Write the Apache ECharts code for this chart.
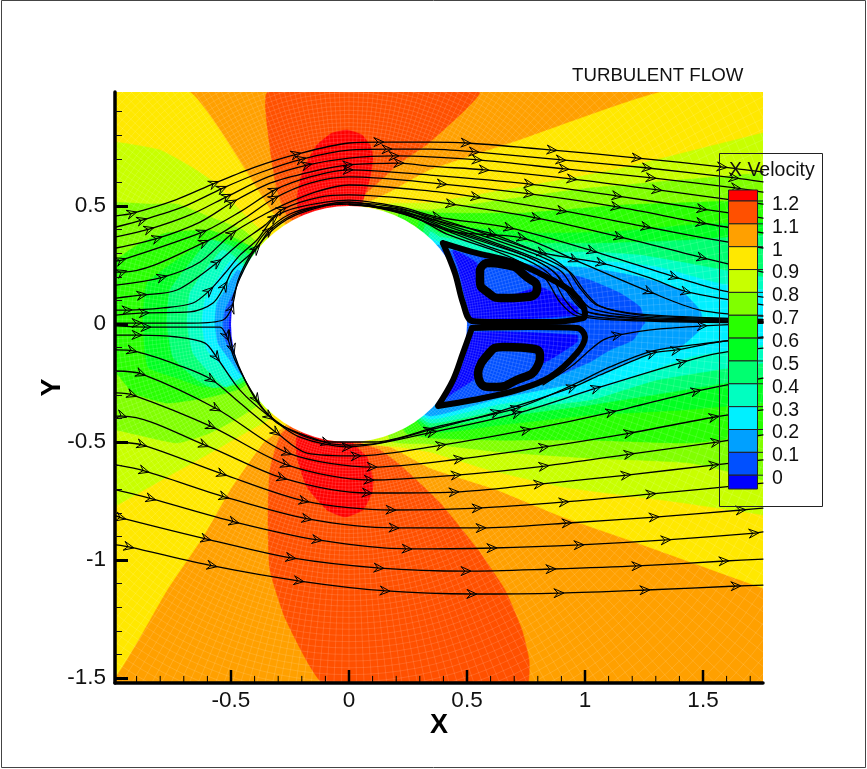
<!DOCTYPE html>
<html><head><meta charset="utf-8">
<style>html,body{margin:0;padding:0;background:#fff}#c{width:867px;height:769px}</style>
<script src="https://cdn.jsdelivr.net/npm/echarts@6/dist/echarts.min.js"></script>
</head><body><div id="c"></div>
<script>
// ---------- axis values
const xMajorTicks = [-0.5, 0, 0.5, 1, 1.5];
const xMinorTicks = [-0.9,-0.8,-0.7,-0.6,-0.4,-0.3,-0.2,-0.1,0.1,0.2,0.3,0.4,0.6,0.7,0.8,0.9,1.1,1.2,1.3,1.4,1.6,1.7];
const yMajorTicks = [-1.5, -1, -0.5, 0, 0.5];
const yMinorTicks = [-1.4,-1.3,-1.2,-1.1,-0.9,-0.8,-0.7,-0.6,-0.4,-0.3,-0.2,-0.1,0.1,0.2,0.3,0.4,0.6,0.7,0.8,0.9];
const xMin = -0.9915, xMax = 1.7542, yMin = -1.521, yMax = 0.983;
const xMajorTickTop = yMin + 0.055, xMinorTickTop = yMin + 0.03;

// ---------- legend
const levelLabels = ['1.2','1.1','1','0.9','0.8','0.7','0.6','0.5','0.4','0.3','0.2','0.1','0'];
const bandColors = ['#ff0000','#ff5000','#ffa000','#ffe800','#c8ff00','#80ff00','#28ff00','#00ff20','#00ff70','#00ffc0','#00f0ff','#00a0ff','#0050ff','#0000ff'];
const [cRed,cOrangeRed,cOrange,cYellow,cYG,cLime,cGreen,cGreen2,cSpring,cAqua,cCyan,cSky,cBlue,cDeep] = bandColors;

// ---------- X velocity contour regions (iso-line outlines)
const regionBase = [[-1.1,1.1],[1.9,1.1],[1.9,-1.6],[-1.1,-1.6]];
const yellowLeft = [[-1.1,.983],[-.674,.983],[-.322,.470],[-.25,.398],[-.208,0],[-.25,-.407],[-.305,-.458],[-.364,-.504],[-.504,-.703],[-.619,-.902],[-.771,-1.127],[-.991,-1.496],[-1.1,-1.5]];
const yellowRight = [[.025,.5],[.055,.504],[.174,.559],[.343,.652],[.725,.780],[1.326,.983],[1.9,.983],[1.9,-1.17],[1.754,-1.119],[1.246,-.936],[.907,-.818],[.627,-.703],[.343,-.610],[.174,-.521],[.025,-.496],[.1,0]];
const orangeRedTop = [[-.343,.983],[.551,.983],[.343,.771],[.216,.682],[.102,.580],[.017,.5],[0,.3],[-.258,.453],[-.305,.568],[-.335,.75]];
const orangeRedBottom = [[-.284,-.462],[-.335,-.619],[-.343,-.818],[-.335,-1.042],[-.267,-1.254],[-.1,-1.53],[.752,-1.53],[.763,-1.424],[.733,-1.297],[.661,-1.127],[.547,-.958],[.386,-.758],[.216,-.597],[.131,-.534],[.047,-.5],[0,-.3]];
const redTop = [[-.008,.822],[.055,.801],[.093,.75],[.102,.695],[.089,.619],[.064,.538],[.047,.49],[0,.3],[-.208,.462],[-.220,.534],[-.195,.652],[-.136,.758],[-.072,.809]];
const redBottom = [[-.220,-.479],[-.220,-.564],[-.178,-.691],[-.093,-.788],[-.017,-.818],[.059,-.788],[.097,-.716],[.102,-.661],[.076,-.564],[.017,-.504],[0,-.3]];
const below09Left = [[-1.1,.78],[-.987,.771],[-.801,.737],[-.661,.661],[-.568,.597],[-.492,.513],[-.407,.428],[-.347,.369],[-.208,0],[-.335,-.398],[-.419,-.449],[-.589,-.547],[-.771,-.648],[-.987,-.77],[-1.1,-.83]];
const below08Left = [[-1.1,.5],[-.843,.508],[-.729,.508],[-.589,.453],[-.449,.398],[-.390,.343],[-.208,0],[-.377,-.335],[-.462,-.394],[-.589,-.462],[-.729,-.504],[-.987,-.449],[-1.1,-.44]];
const below07Left = [[-1.1,.17],[-.886,.343],[-.771,.386],[-.602,.398],[-.492,.369],[-.419,.326],[-.208,0],[-.449,-.267],[-.589,-.309],[-.771,-.335],[-.915,-.292],[-.987,-.208],[-1.1,-.15]];
const below06Left = [[-.729,.271],[-.856,.174],[-.873,.004],[-.852,-.182],[-.729,-.229],[-.619,-.267],[-.462,-.254],[-.377,-.2],[-.208,0],[-.398,.32],[-.525,.356],[-.644,.326]];
const below05Left = [[-.589,.356],[-.674,.258],[-.758,.144],[-.771,.004],[-.746,-.14],[-.644,-.237],[-.576,-.27],[-.46,-.25],[-.208,0],[-.42,.29],[-.5,.33]];
const below04Left = [[-.534,.314],[-.619,.216],[-.674,.131],[-.686,.004],[-.661,-.123],[-.589,-.208],[-.517,-.267],[-.208,0],[-.44,.25]];
const below03Left = [[-.492,.271],[-.559,.186],[-.610,.102],[-.623,.004],[-.602,-.110],[-.534,-.182],[-.475,-.237],[-.208,0]];
const below02Left = [[-.470,.229],[-.517,.157],[-.559,.089],[-.568,.004],[-.555,-.081],[-.504,-.153],[-.453,-.216],[-.2,0]];
const below01Left = [[-.462,.165],[-.525,.059],[-.534,.004],[-.525,-.068],[-.475,-.140],[-.2,0]];
const below00Left = [[-.483,.102],[-.508,.004],[-.492,-.089],[-.2,0]];
const below09Right = [[.11,.496],[.343,.513],[1.119,.652],[1.754,.809],[1.9,.84],[1.9,-.85],[1.754,-.809],[1.331,-.746],[.907,-.691],[.597,-.619],[.343,-.542],[.216,-.521],[.089,-.5],[.1,0]];
const below08Right = [[.153,.487],[.343,.483],[.737,.538],[1.021,.576],[1.754,.640],[1.9,.65],[1.9,-.70],[1.754,-.661],[1.445,-.589],[1.021,-.568],[.640,-.542],[.343,-.508],[.174,-.492],[.1,0]];
const below07Right = [[.216,.475],[.386,.47],[.737,.47],[1.161,.504],[1.754,.525],[1.9,.53],[1.9,-.47],[1.754,-.47],[1.445,-.504],[1.021,-.492],[.640,-.492],[.343,-.483],[.237,-.458],[.1,0]];
const below06Right = [[.301,.453],[.386,.42],[.809,.386],[1.106,.39],[1.445,.42],[1.754,.432],[1.9,.432],[1.9,-.33],[1.754,-.335],[1.415,-.364],[1.021,-.386],[.640,-.428],[.343,-.458],[.2,-.3]];
const below05Right = [[.322,.419],[.386,.386],[.809,.343],[1.106,.343],[1.445,.356],[1.754,.377],[1.9,.38],[1.9,-.22],[1.754,-.225],[1.415,-.28],[1.021,-.343],[.640,-.394],[.343,-.436],[.2,-.3]];
const below04Right = [[.343,.39],[.386,.369],[.809,.305],[1.021,.305],[1.233,.292],[1.517,.242],[1.754,.199],[1.9,.18],[1.9,-.16],[1.754,-.165],[1.305,-.237],[1.021,-.322],[.640,-.364],[.343,-.419],[.2,-.3]];
const below03Right = [[.343,.36],[.386,.347],[.669,.284],[1.021,.271],[1.305,.242],[1.559,.174],[1.754,.144],[1.9,.13],[1.9,-.09],[1.754,-.089],[1.445,-.14],[1.203,-.225],[1.021,-.288],[.640,-.339],[.343,-.403],[.2,-.3]];
const below02Right = [[.2,.3],[.386,.335],[.640,.263],[1.021,.237],[1.233,.199],[1.403,.144],[1.487,.059],[1.500,.004],[1.487,-.025],[1.403,-.097],[1.305,-.11],[1.203,-.153],[1.021,-.237],[.640,-.314],[.343,-.39],[.2,-.3]];
const below01Right = [[.3,.3],[.407,.314],[.64,.28],[.966,.203],[1.021,.186],[1.148,.131],[1.233,.072],[1.254,.004],[1.246,-.004],[1.203,-.068],[1.106,-.11],[1.021,-.161],[.839,-.237],[.627,-.292],[.428,-.335],[.2,-.3]];
const below00Upper = [[.441,.314],[.542,.258],[.542,.157],[.627,.102],[.809,.157],[.966,.072],[.966,.038],[.525,.017],[.492,.114],[.462,.242]];
const below00Lower = [[.504,-.038],[.966,-.047],[.966,-.076],[.822,-.165],[.797,-.11],[.669,-.089],[.585,-.123],[.542,-.225],[.441,-.292],[.415,-.309],[.483,-.165]];
const coreUpper = [[.585,.229],[.669,.237],[.754,.157],[.682,.136],[.610,.157],[.589,.199]];
const coreLower = [[.576,-.208],[.610,-.144],[.737,-.123],[.767,-.153],[.695,-.225],[.61,-.246]];

const contourLayers = [
  [regionBase,cOrange],[yellowLeft,cYellow],[yellowRight,cYellow],
  [orangeRedTop,cOrangeRed],[orangeRedBottom,cOrangeRed],[redTop,cRed],[redBottom,cRed],
  [below09Left,cYG],[below09Right,cYG],[below08Left,cLime],[below08Right,cLime],
  [below07Left,cGreen],[below07Right,cGreen],[below06Left,cGreen2],[below06Right,cGreen2],
  [below05Left,cSpring],[below05Right,cSpring],[below04Left,cAqua],[below04Right,cAqua],
  [below03Left,cCyan],[below03Right,cCyan],[below02Left,cSky],[below02Right,cSky],
  [below01Left,cBlue],[below01Right,cBlue],[below00Left,cDeep],[below00Upper,cDeep],[below00Lower,cDeep],
  [coreUpper,cBlue],[coreLower,cBlue]
];

// ---------- mesh and body
const cylinderRadius = 0.5;
const meshSpokes = 300, meshRings = 90, meshGrowth = 1.02;

// ---------- recirculation loops (thick)
const ringUpper = [[.555,.229],[.589,.258],[.669,.25],[.754,.199],[.797,.153],[.754,.114],[.653,.11],[.585,.136],[.555,.186],[.555,.229]];
const ringLower = [[.547,-.208],[.576,-.144],[.653,-.097],[.754,-.102],[.809,-.131],[.797,-.182],[.712,-.237],[.61,-.267],[.555,-.246],[.547,-.208]];
const bubbleUpper = [[.398,.343],[.525,.305],[.695,.263],[.839,.199],[.949,.131],[1.0,.047],[.992,.025],[.839,.008],[.627,.008],[.521,.013],[.483,.089],[.449,.216],[.398,.343]];
const bubbleLower = [[.521,-.017],[.767,-.013],[.966,-.017],[1.0,-.055],[.966,-.123],[.852,-.225],[.712,-.28],[.525,-.322],[.377,-.347],[.441,-.237],[.483,-.123],[.521,-.017]];

// ---------- streamlines: [x, y] or [x, y, 1] where an arrow head sits
const sUp1=[[-.987,.458],[-.915,.470,1],[-.737,.525],[-.568,.597,1],[-.398,.665],[-.220,.720,1],[0,.767],[.131,.771,1],[.343,.771],[.5,.767,1],[.864,.737,1],[1.224,.703,1],[1.585,.665,1],[1.754,.644]];
const sUp2=[[-.987,.411],[-.873,.441,1],[-.703,.496],[-.534,.576,1],[-.369,.644],[-.199,.699,1],[0,.737],[.165,.741,1],[.343,.741],[.534,.729,1],[.902,.695,1],[1.267,.661,1],[1.635,.619,1],[1.754,.602]];
const sUp3=[[-.987,.369],[-.843,.403,1],[-.674,.462],[-.513,.542,1],[-.343,.623],[-.174,.674,1],[0,.703],[.195,.712,1],[.343,.708],[.547,.695,1],[.915,.657,1],[1.284,.619,1],[1.644,.576,1],[1.754,.559]];
const sUp4=[[-.987,.322],[-.809,.364,1],[-.631,.432],[-.492,.517,1],[-.335,.597],[-.165,.644],[0,.674,1],[.216,.682,1],[.343,.669],[.576,.653,1],[.949,.614,1],[1.309,.568,1],[1.754,.508]];
const sUp5=[[-.987,.267],[-.962,.271,1],[-.619,.39,1],[-.462,.475],[-.314,.568,1],[-.165,.623],[0,.653,1],[.343,.631],[.767,.593,1],[1.14,.542,1],[1.5,.487,1],[1.754,.449]];
const sUp6=[[-.987,.22],[-.958,.22,1],[-.610,.347,1],[-.441,.449],[-.314,.534,1],[-.165,.597],[0,.623],[.398,.593,1],[.767,.551,1],[1.136,.496,1],[1.496,.428,1],[1.754,.386]];
const sUp7=[[-.987,.165],[-.788,.199,1],[-.631,.263],[-.492,.386,1],[-.356,.466],[-.28,.504],[-.144,.559],[0,.589],[.386,.559],[.542,.538,1],[.907,.479,1],[1.263,.411,1],[1.508,.364],[1.754,.322]];
const sUp8=[[-.987,.11],[-.873,.123,1],[-.729,.144],[-.555,.263,1],[-.462,.343],[-.356,.419],[-.28,.487,1],[-.123,.538],[0,.547],[.216,.534],[.436,.508,1],[.797,.449,1],[1.148,.369,1],[1.5,.28,1],[1.754,.22]];
const sUp9=[[-.987,.059],[-.936,.059,1],[-.788,.068],[-.661,.089],[-.589,.144,1],[-.525,.216],[-.462,.292],[-.39,.356],[-.314,.453,1],[-.208,.496],[0,.525],[.216,.496],[.377,.453,1],[.682,.407,1],[1.034,.309,1],[1.381,.199,1],[1.572,.144],[1.754,.114]];
const sUp10=[[-.987,.038],[-.864,.047,1],[-.674,.051],[-.576,.089],[-.525,.165,1],[-.492,.229],[-.39,.322,1],[-.335,.398,1],[-.208,.475],[0,.517],[.216,.475],[.428,.424],[.61,.381,1],[.822,.301,1],[1.072,.258,1],[1.275,.195],[1.432,.136,1],[1.754,.081]];
const sUp11=[[-.987,.004],[-.894,.004,1],[-.661,.004],[-.534,.017],[-.496,.072,1],[-.47,.186],[-.419,.292],[-.356,.386],[-.25,.466],[-.123,.5],[0,.508],[.216,.475],[.428,.394],[.737,.364,1],[.958,.271,1],[1.275,.136,1],[1.487,.059],[1.754,.034]];
const sBundle1=[[-.496,.1],[-.462,.195],[-.398,.314],[-.314,.407],[-.208,.469],[0,.513],[.216,.491],[.386,.432],[.597,.364],[.809,.288],[.936,.22],[1,.136],[1.063,.076],[1.233,.038],[1.487,.025],[1.754,.017]];
const sBundle2=[[0,.508],[.216,.483],[.386,.424],[.597,.352],[.788,.28],[.902,.22],[.966,.123],[1.03,.064],[1.233,.03],[1.487,.021],[1.754,.013]];
const sBundle3=[[0,.508],[.195,.479],[.386,.411],[.597,.339],[.767,.28],[.873,.216],[.936,.119],[1,.055],[1.233,.025],[1.487,.017],[1.754,.008]];
const sBundle4=[[.089,.5],[.258,.458],[.407,.398],[.597,.326],[.746,.275],[.852,.208],[.915,.102],[.979,.042],[1.233,.017],[1.754,.008]];
const sBundle5=[[.131,.496],[.301,.441],[.415,.381],[.597,.318],[.725,.263],[.83,.195],[.894,.093],[.966,.034],[1.233,.013],[1.754,.004]];
const sBundle6=[[0,.505],[.216,.487],[.386,.443],[.597,.376],[.83,.292],[.92,.235],[.98,.15],[1.05,.08],[1.233,.042],[1.754,.02]];
const sBundle7=[[.04,.505],[.25,.47],[.40,.41],[.597,.345],[.79,.27],[.885,.205],[.95,.11],[1.01,.05],[1.233,.022],[1.754,.01]];
const sLow0=[[.822,-.258],[.949,-.174],[1.021,-.11],[1.076,-.068],[1.14,-.047,1],[1.318,-.021],[1.5,-.008,1],[1.754,.004]];
const sLow1=[[-.508,-.025],[-.492,-.11,1],[-.441,-.237],[-.369,-.356],[-.25,-.449],[-.081,-.5],[.11,-.5],[.386,-.432],[.712,-.356,1],[.949,-.258],[1.106,-.182],[1.288,-.114],[1.487,-.085],[1.754,-.055]];
const sLow2=[[-.987,-.008],[-.856,-.013,1],[-.661,-.013],[-.547,-.013],[-.517,-.055,1],[-.483,-.153],[-.39,-.322,1],[-.305,-.419],[-.093,-.504,1],[-.004,-.513],[.131,-.504],[.343,-.449,1],[.627,-.373,1],[.949,-.267,1],[1.063,-.216],[1.288,-.123,1],[1.39,-.11,1],[1.568,-.076],[1.754,-.059]];
const sLow3=[[-.987,-.047],[-.894,-.047,1],[-.729,-.055],[-.61,-.081],[-.559,-.144,1],[-.462,-.28],[-.335,-.394,1],[-.208,-.479],[-.004,-.521,1],[.356,-.458,1],[.716,-.377,1],[1.051,-.271,1],[1.415,-.161,1],[1.568,-.123],[1.754,-.102]];
const sLow4=[[-.987,-.11],[-.915,-.114,1],[-.703,-.182],[-.58,-.237,1],[-.462,-.335],[-.305,-.462,1],[-.178,-.547],[.034,-.559,1],[.394,-.513,1],[.754,-.449,1],[1.114,-.373,1],[1.475,-.284,1],[1.754,-.229]];
const sLow5=[[-.987,-.199],[-.877,-.212,1],[-.559,-.36,1],[-.258,-.547,1],[.102,-.606,1],[.47,-.572,1],[.83,-.521,1],[1.191,-.462,1],[1.551,-.394,1],[1.754,-.364]];
const sLow6=[[-.987,-.292],[-.915,-.301,1],[-.58,-.436,1],[-.263,-.597,1],[.089,-.661,1],[.458,-.64,1],[.83,-.602,1],[1.191,-.551,1],[1.559,-.5,1],[1.754,-.47]];
const sLow7=[[-.987,-.39],[-.958,-.39,1],[-.61,-.513,1],[-.28,-.653,1],[.081,-.716,1],[.449,-.712,1],[.809,-.678,1],[1.178,-.64,1],[1.551,-.597,1],[1.754,-.576]];
const sLow8=[[-.987,-.5],[-.873,-.513,1],[-.534,-.636,1],[-.186,-.75,1],[.182,-.788,1],[.547,-.78,1],[.915,-.754,1],[1.284,-.72,1],[1.754,-.674]];
const sLow9=[[-.987,-.597],[-.864,-.623,1],[-.525,-.733,1],[-.174,-.826,1],[.195,-.864,1],[.564,-.864,1],[.928,-.843,1],[1.297,-.818,1],[1.665,-.788,1],[1.754,-.78]];
const sLow10=[[-.987,-.703],[-.835,-.741,1],[-.483,-.839,1],[-.131,-.915,1],[.25,-.953,1],[.61,-.949,1],[.979,-.936,1],[1.347,-.915,1],[1.72,-.886,1],[1.754,-.881]];
const sLow11=[[-.987,-.813],[-.962,-.822,1],[-.602,-.911,1],[-.242,-.991,1],[.131,-1.034,1],[.5,-1.047,1],[.86,-1.038,1],[1.224,-1.025,1],[1.593,-1.004,1],[1.754,-.996]];
const sLow12=[[-.987,-.936],[-.928,-.945,1],[-.576,-1.025,1],[-.208,-1.089,1],[.157,-1.131,1],[.525,-1.144,1],[.894,-1.14,1],[1.258,-1.127,1],[1.644,-1.11,1],[1.754,-1.106]];
const streamlines=[sUp1,sUp2,sUp3,sUp4,sUp5,sUp6,sUp7,sUp8,sUp9,sUp10,sUp11,sBundle1,sBundle2,sBundle3,sBundle4,sBundle5,sBundle6,sBundle7,sLow0,sLow1,sLow2,sLow3,sLow4,sLow5,sLow6,sLow7,sLow8,sLow9,sLow10,sLow11,sLow12];

// ---------- series construction
const chart = echarts.init(document.getElementById('c'), null, {renderer:'canvas'});
const lineSeries = (pts,w,sm) => ({type:'line',xAxisIndex:0,yAxisIndex:0,data:pts.map(p=>[p[0],p[1]]),showSymbol:false,smooth:sm||0.3,silent:true,clip:true,lineStyle:{color:'#000',width:w,join:'round',cap:'round'},animation:false});
const tickSeries = (v,top,w) => ({type:'line',xAxisIndex:0,yAxisIndex:0,z:10,data:[[v,yMin],[v,top]],showSymbol:false,silent:true,clip:false,lineStyle:{color:'#000',width:w},animation:false});
const arrowData = [];
streamlines.forEach(s=>s.forEach((p,i)=>{ if(p[2]){ const a=s[i-1]||p,b=s[i+1]||p; arrowData.push([p[0],p[1],a[0],a[1],b[0],b[1]]); }}));

const series = [
 {type:'custom',silent:true,clip:true,animation:false,data:contourLayers.map((_,i)=>[i]),encode:{x:[],y:[]},
  renderItem:(ctx,api)=>{const l=contourLayers[api.value(0)];
    return {type:'polygon',shape:{points:l[0].map(p=>api.coord(p)),smooth:0.15},style:{fill:l[1],stroke:l[1],lineWidth:0.5}};}},
 {type:'custom',silent:true,clip:true,animation:false,data:[[0]],encode:{x:[],y:[]},
  renderItem:(ctx,api)=>{const ch=[];const c=api.coord([0,0]);const unit=api.size([1,0])[0];
    const st={stroke:'rgba(255,255,255,0.16)',lineWidth:0.8,fill:null};
    for(let i=0;i<meshSpokes;i++){const t=i/meshSpokes*2*Math.PI;const r0=unit*cylinderRadius,r1=unit*3.2;
      ch.push({type:'line',shape:{x1:c[0]+r0*Math.cos(t),y1:c[1]+r0*Math.sin(t),x2:c[0]+r1*Math.cos(t),y2:c[1]+r1*Math.sin(t)},style:st});}
    let r=unit*cylinderRadius;
    for(let k=0;k<meshRings;k++){ch.push({type:'circle',shape:{cx:c[0],cy:c[1],r:r},style:st});r*=meshGrowth;}
    return {type:'group',children:ch};}},
 {type:'custom',silent:true,clip:true,animation:false,data:[[0,0,cylinderRadius]],encode:{x:0,y:1},
  renderItem:(ctx,api)=>{const c=api.coord([api.value(0),api.value(1)]);
    return {type:'circle',shape:{cx:c[0],cy:c[1],r:api.size([api.value(2),0])[0]},style:{fill:'#fff'}};}},
 lineSeries(bubbleUpper,6,0.35),lineSeries(bubbleLower,6,0.35),lineSeries(ringUpper,8.5,0.6),lineSeries(ringLower,8.5,0.6),
 ...streamlines.map(s=>lineSeries(s,1.3)),
 {type:'custom',silent:true,clip:true,animation:false,data:arrowData,encode:{x:0,y:1},
  renderItem:(ctx,api)=>{const p=api.coord([api.value(0),api.value(1)]),a=api.coord([api.value(2),api.value(3)]),b=api.coord([api.value(4),api.value(5)]);
    const t=Math.atan2(b[1]-a[1],b[0]-a[0]);const tip=[p[0]+4*Math.cos(t),p[1]+4*Math.sin(t)];
    const barb=s=>[tip[0]-10*Math.cos(t)+s*4.5*Math.sin(t),tip[1]-10*Math.sin(t)-s*4.5*Math.cos(t)];
    const notch=[tip[0]-6*Math.cos(t),tip[1]-6*Math.sin(t)];
    return {type:'polyline',shape:{points:[barb(1),tip,barb(-1),notch,barb(1)]},style:{stroke:'#000',lineWidth:1,fill:null}};}},
 ...xMajorTicks.map(v=>tickSeries(v,xMajorTickTop,2.5)),
 ...xMinorTicks.map(v=>tickSeries(v,xMinorTickTop,1))
];

// ---------- legend graphics
const legendFont='"Liberation Sans",Arial,sans-serif';
const swatchX=728,swatchW=29,tick1=201,step=22.85,swatchTop=190,swatchBottom=489;
const graphic=[];
graphic.push({type:'rect',z:100,shape:{x:1.5,y:0.5,width:864,height:767},style:{fill:null,stroke:'#444',lineWidth:1},silent:true});
graphic.push({type:'rect',z:100,shape:{x:719.5,y:153.5,width:103,height:353},style:{fill:null,stroke:'#222',lineWidth:1},silent:true});
graphic.push({type:'text',z:101,x:729,y:171,style:{text:'X Velocity',font:'19.5px '+legendFont,fill:'#111',textVerticalAlign:'middle',textBaseline:'middle'},silent:true});
bandColors.forEach((col,i)=>{
  const top=i===0?swatchTop:tick1+(i-1)*step, bot=i===bandColors.length-1?swatchBottom:tick1+i*step;
  graphic.push({type:'rect',z:101,shape:{x:swatchX+.5,y:top,width:swatchW,height:bot-top},style:{fill:col,stroke:'#222',lineWidth:1},silent:true});
});
levelLabels.forEach((t,i)=>{
  const y=tick1+i*step;
  graphic.push({type:'line',z:101,shape:{x1:swatchX+swatchW,y1:y,x2:763,y2:y},style:{stroke:'#222',lineWidth:1},silent:true});
  graphic.push({type:'text',z:101,x:772,y:y+3.5,style:{text:t,font:'19.5px '+legendFont,fill:'#111',textBaseline:'middle',textVerticalAlign:'middle'},silent:true});
});

const axisFont={fontFamily:'"Liberation Sans",Arial,sans-serif',fontSize:22.5,color:'#111'};
const nameFont={fontFamily:'"Liberation Sans",Arial,sans-serif',fontSize:27,fontWeight:'bold',color:'#000'};
chart.setOption({
 animation:false,backgroundColor:'#fff',
 title:{text:'TURBULENT FLOW',left:567,top:61,textStyle:{fontFamily:'"Liberation Sans",Arial,sans-serif',fontSize:18.7,fontWeight:'normal',color:'#111'}},
 grid:{left:115,right:104,top:92,bottom:86,containLabel:false},
 xAxis:[
  {type:'value',z:10,min:xMin,max:xMax,position:'bottom',name:'X',nameLocation:'middle',nameGap:29,nameMoveOverlap:false,nameTextStyle:nameFont,splitLine:{show:false},
   axisLine:{show:true,onZero:false,lineStyle:{color:'#000',width:3.5}},
   axisTick:{show:false},
   axisLabel:{show:true,margin:6,customValues:xMajorTicks,...axisFont}}
 ],
 yAxis:[
  {type:'value',z:10,min:yMin,max:yMax,position:'left',name:'Y',nameLocation:'middle',nameGap:49,nameMoveOverlap:false,nameTextStyle:nameFont,splitLine:{show:false},
   axisLine:{show:true,onZero:false,lineStyle:{color:'#000',width:3.5}},
   axisTick:{show:true,inside:true,length:13,lineStyle:{color:'#000',width:3},customValues:yMajorTicks},
   axisLabel:{show:true,margin:9,padding:[4,0,0,0],customValues:yMajorTicks,...axisFont}},
  {type:'value',z:10,min:yMin,max:yMax,position:'left',splitLine:{show:false},axisLine:{show:false,onZero:false},
   axisTick:{show:true,inside:true,length:7,lineStyle:{color:'#111',width:1},customValues:yMinorTicks},axisLabel:{show:false}}
 ],
 series:series,
 graphic:{elements:graphic}
});
</script></body></html>
